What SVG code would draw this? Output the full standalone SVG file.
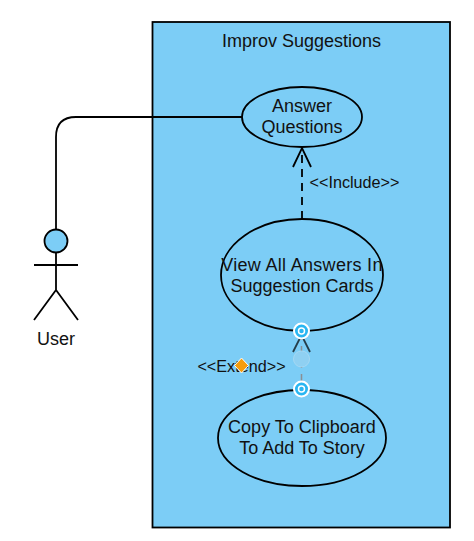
<svg xmlns="http://www.w3.org/2000/svg" width="474" height="541" viewBox="0 0 474 541">
<style>
text{font-family:"Liberation Sans",Arial,sans-serif;fill:#111;text-anchor:middle}
.n{fill:#7ccdf6;stroke:#000;stroke-width:1.800}
.l{fill:none;stroke:#000;stroke-width:1.800}
.t{font-size:18px}
.s{font-size:16.200px}
.h{fill:#29b6f2;stroke:#fff;stroke-width:2}
.h2{fill:none;stroke:#fff;stroke-width:1.500}
</style>
<rect x="0" y="0" width="474" height="541" fill="#fff"/>
<g id="system"><rect class="n" x="152.500" y="22" width="297.500" height="505.500"/><text class="t" x="301.500" y="47">Improv Suggestions</text></g>
<g id="connectors">
<path class="l" d="M243 117H76Q56 117 56 137V229"/>
<path class="l" stroke-dasharray="8 6" d="M302 219V148"/>
<path class="l" d="M293 167L302 148L311 167"/>
<text class="s" x="354.500" y="187.500">&lt;&lt;Include&gt;&gt;</text>
<path d="M301.500 332V389" fill="none" stroke="#8a8f94" stroke-width="1.500" stroke-dasharray="8 6"/>
<path d="M293 352L301.500 335L310 352" fill="none" stroke="#000" stroke-width="1.800" opacity=".7"/>
<text class="s" x="241.500" y="371.500">&lt;&lt;Extend&gt;&gt;</text>
</g>
<g id="answer"><ellipse class="n" cx="302" cy="117" rx="60" ry="30"/><text class="t" x="302" y="112">Answer</text><text class="t" x="302" y="133">Questions</text></g>
<g id="view"><ellipse class="n" cx="302" cy="275" rx="81" ry="56"/><text class="t" x="302" y="271" letter-spacing=".3">View All Answers In</text><text class="t" x="302" y="292">Suggestion Cards</text></g>
<g id="copy"><ellipse class="n" cx="302" cy="438" rx="84" ry="48"/><text class="t" x="302" y="433">Copy To Clipboard</text><text class="t" x="302" y="454">To Add To Story</text></g>
<g id="user">
<circle class="n" cx="56" cy="241" r="11.500"/>
<path class="l" d="M56 252.500V290M34 265H78M34 320L56 290L78 320"/>
<text class="t" x="56" y="345">User</text>
</g>
<g id="handles">
<circle cx="301.500" cy="359" r="8" fill="#8fd0f2" stroke="#a5d8f3" stroke-width="1"/>
<circle class="h" cx="301.500" cy="331" r="7.500"/><circle class="h2" cx="301.500" cy="331" r="3"/>
<circle class="h" cx="301.500" cy="389" r="7.500"/><circle class="h2" cx="301.500" cy="389" r="3"/>
<path d="M241.500 358L248.500 365.500L241.500 373L234.500 365.500Z" fill="#f59d0e" stroke="#fff" stroke-width="1"/>
</g>
</svg>
